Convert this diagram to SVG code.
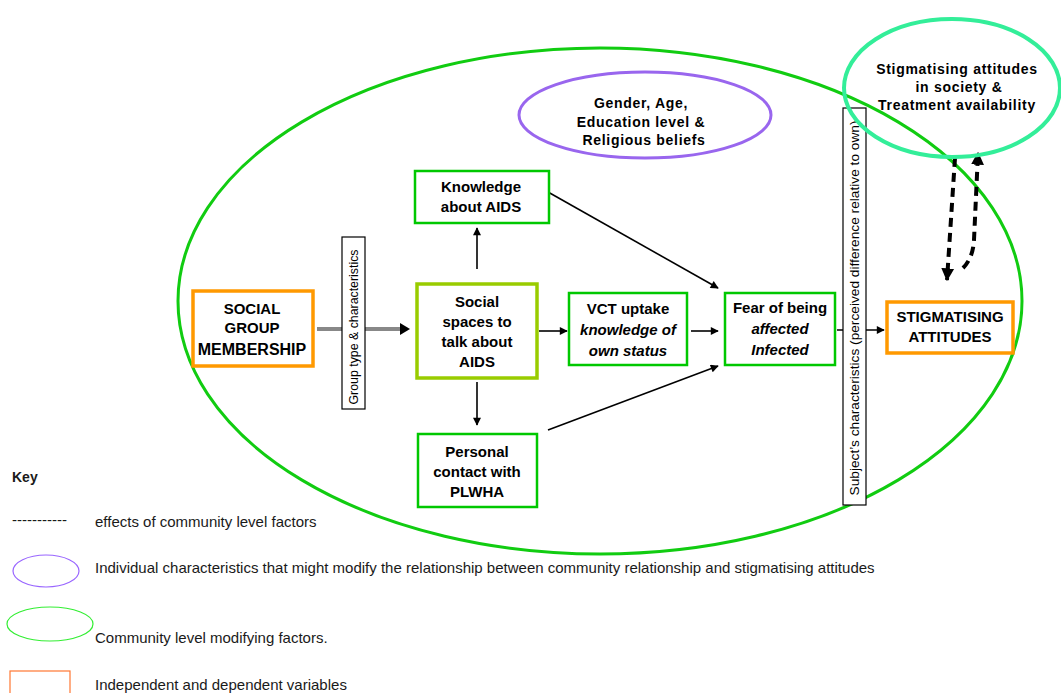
<svg xmlns="http://www.w3.org/2000/svg" width="1061" height="693" viewBox="0 0 1061 693">
<style>
.bt{font-family:"Liberation Sans",Arial,sans-serif;font-weight:bold;font-size:15px;fill:#000;text-anchor:middle}
.it{font-style:italic}
.et{font-family:"Liberation Sans",Arial,sans-serif;font-weight:bold;font-size:14px;fill:#000;text-anchor:middle;letter-spacing:0.7px}
.vt{font-family:"Liberation Sans",Arial,sans-serif;font-size:12.5px;fill:#000;text-anchor:middle}
.kt{font-family:"Liberation Sans",Arial,sans-serif;font-size:15px;fill:#1a1a1a}
.gbox{fill:#fff;stroke:#00c800;stroke-width:2.5}
.obox{fill:#fff;stroke:#ff9900;stroke-width:3.5}
.bar{fill:#fff;stroke:#000;stroke-width:1.2}
.ar{stroke:#000;stroke-width:1.6;fill:none;marker-end:url(#ah)}
.dl{stroke:#000;stroke-width:4;fill:none;stroke-dasharray:9 6;marker-end:url(#ahb)}
</style>
<defs>
<marker id="ah" viewBox="0 0 10 10" refX="9" refY="5" markerWidth="9" markerHeight="8" markerUnits="userSpaceOnUse" orient="auto"><path d="M0,0 L10,5 L0,10 z" fill="#000"/></marker>
<marker id="ahb" viewBox="0 0 10 10" refX="9" refY="5" markerWidth="13" markerHeight="14" markerUnits="userSpaceOnUse" orient="auto"><path d="M0,0 L10,5 L0,10 z" fill="#000"/></marker>
</defs>
<rect width="1061" height="693" fill="#fff"/>

<g id="community-ellipse">
<ellipse cx="600" cy="301" rx="422" ry="253" fill="none" stroke="#11cc11" stroke-width="3"/>
</g>

<g id="connectors">
<line x1="317" y1="329" x2="402" y2="329" stroke="#888" stroke-width="4"/>
<path d="M400,323 L410,329 L400,335 z" fill="#000"/>
<line class="ar" x1="477" y1="269" x2="477" y2="228"/>
<line class="ar" x1="477" y1="382" x2="477" y2="425"/>
<line class="ar" x1="539" y1="331" x2="567" y2="331"/>
<line class="ar" x1="691" y1="331" x2="718" y2="331"/>
<line class="ar" x1="548" y1="192" x2="718" y2="288"/>
<line class="ar" x1="548" y1="430" x2="718" y2="366"/>
<line class="ar" x1="837" y1="330" x2="884" y2="330"/>
<path class="dl" d="M955,158 L947,280"/>
<path class="dl" d="M963,268 Q973,258 974,240 L978,153"/>
</g>

<g id="group-type-bar">
<rect class="bar" x="342" y="237" width="23" height="172"/>
<text class="vt" transform="translate(358,327) rotate(-90)" textLength="155" lengthAdjust="spacingAndGlyphs">Group type &amp; characteristics</text>
</g>

<g id="subject-bar">
<rect class="bar" x="843" y="108" width="23" height="397"/>
<text class="vt" transform="translate(859,308) rotate(-90)" textLength="375" lengthAdjust="spacingAndGlyphs">Subject’s characteristics (perceived difference relative to own)</text>
</g>

<g id="individual-ellipse">
<ellipse cx="645" cy="115" rx="126" ry="43" fill="none" stroke="#9966ee" stroke-width="3"/>
<text class="et" x="641" y="108">Gender, Age,</text>
<text class="et" x="641" y="127">Education level &amp;</text>
<text class="et" x="644" y="145">Religious beliefs</text>
</g>

<g id="society-ellipse">
<ellipse cx="952" cy="88" rx="108" ry="69" fill="none" stroke="#33ee99" stroke-width="4"/>
<text class="et" x="957" y="74">Stigmatising attitudes</text>
<text class="et" x="959" y="92">in society &amp;</text>
<text class="et" x="957" y="110">Treatment availability</text>
</g>

<g id="social-group">
<rect class="obox" x="193" y="291" width="120" height="75"/>
<text class="bt" x="252" y="314">SOCIAL</text>
<text class="bt" x="252" y="333">GROUP</text>
<text class="bt" x="252" y="355" style="font-size:16px">MEMBERSHIP</text>
</g>

<g id="social-spaces">
<rect x="417" y="284" width="120" height="94" fill="#fff" stroke="#99cc00" stroke-width="3.5"/>
<text class="bt" x="477" y="307">Social</text>
<text class="bt" x="477" y="327">spaces to</text>
<text class="bt" x="477" y="347">talk about</text>
<text class="bt" x="477" y="367">AIDS</text>
</g>

<g id="knowledge">
<rect class="gbox" x="415" y="171" width="134" height="52"/>
<text class="bt" x="481" y="192">Knowledge</text>
<text class="bt" x="481" y="212">about AIDS</text>
</g>

<g id="personal-contact">
<rect class="gbox" x="418" y="434" width="119" height="73"/>
<text class="bt" x="477" y="457">Personal</text>
<text class="bt" x="477" y="477">contact with</text>
<text class="bt" x="477" y="497">PLWHA</text>
</g>

<g id="vct">
<rect class="gbox" x="569" y="293" width="118" height="72"/>
<text class="bt" x="628" y="314">VCT uptake</text>
<text class="bt it" x="628" y="335">knowledge of</text>
<text class="bt it" x="628" y="356">own status</text>
</g>

<g id="fear">
<rect class="gbox" x="725" y="293" width="110" height="72"/>
<text class="bt" x="780" y="313">Fear of being</text>
<text class="bt it" x="780" y="334">affected</text>
<text class="bt it" x="780" y="355">Infected</text>
</g>

<g id="stigmatising">
<rect class="obox" x="887" y="302" width="126" height="51"/>
<text class="bt" x="950" y="322">STIGMATISING</text>
<text class="bt" x="950" y="342">ATTITUDES</text>
</g>

<g id="key">
<text class="kt" x="12" y="482" style="font-weight:bold;font-size:14px">Key</text>
<text class="kt" x="12" y="525">-----------</text>
<text class="kt" x="95" y="527">effects of community level factors</text>
<ellipse cx="46" cy="571" rx="33" ry="16" fill="none" stroke="#9966ff" stroke-width="1.2"/>
<text class="kt" x="95" y="573">Individual characteristics that might modify the relationship between community relationship and stigmatising attitudes</text>
<ellipse cx="50" cy="624" rx="43" ry="17" fill="none" stroke="#33ee33" stroke-width="1.2"/>
<text class="kt" x="95" y="643">Community level modifying factors.</text>
<rect x="10" y="671" width="60" height="30" fill="none" stroke="#ff7733" stroke-width="1.2"/>
<text class="kt" x="95" y="690">Independent and dependent variables</text>
</g>
</svg>
